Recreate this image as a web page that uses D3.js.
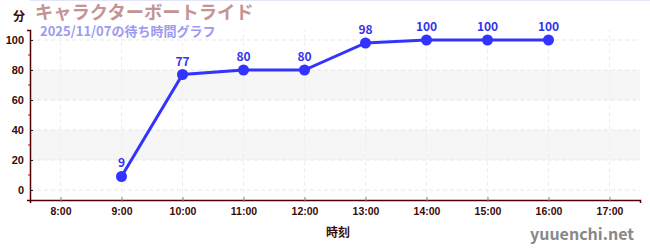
<!DOCTYPE html>
<html><head><meta charset="utf-8">
<script src="https://cdn.jsdelivr.net/npm/d3@7"></script>
<style>body{margin:0;background:#fff}svg{display:block;font-family:"Noto Sans CJK JP","Noto Sans",sans-serif}</style>
</head><body>
<script>
const hours = [9, 10, 11, 12, 13, 14, 15, 16];
const waits = [9, 77, 80, 80, 98, 100, 100, 100];
const xTicks = [8, 9, 10, 11, 12, 13, 14, 15, 16, 17];
const yTicks = [0, 20, 40, 60, 80, 100];
const title = "キャラクターボートライド";
const subtitle = "2025/11/07の待ち時間グラフ";

const W = 650, H = 250;
const svg = d3.select("body").append("svg").attr("width", W).attr("height", H);
const x = d3.scaleLinear().domain([7.5, 17.5]).range([30, 640]);
const y = d3.scaleLinear().domain([-6.667, 106.667]).range([200, 30]);

svg.append("line").attr("x1", 30).attr("x2", W).attr("y1", 0.5).attr("y2", 0.5)
  .attr("stroke", "#e4e4fa").attr("stroke-width", 1);

// bands
[[20, 40], [60, 80]].forEach(([a, b]) => {
  svg.append("rect").attr("x", x(7.5)).attr("width", x(17.5) - x(7.5))
    .attr("y", y(b)).attr("height", y(a) - y(b)).attr("fill", "#f6f6f6");
});
// grid
svg.append("g").selectAll("line").data(yTicks).join("line")
  .attr("x1", x(7.5)).attr("x2", x(17.5)).attr("y1", d => y(d)).attr("y2", d => y(d))
  .attr("stroke", "#e6e6e6").attr("stroke-dasharray", "4,3");
svg.append("g").selectAll("line").data(xTicks).join("line")
  .attr("y1", y(-6.667)).attr("y2", y(106.667)).attr("x1", d => x(d)).attr("x2", d => x(d))
  .attr("stroke", "#eeeeee").attr("stroke-dasharray", "4,3");

// y axis
const yAx = svg.append("g").attr("transform", `translate(${x(7.5)},0)`)
  .call(d3.axisLeft(y).tickValues(yTicks).tickSize(3).tickPadding(3));
yAx.select(".domain").attr("stroke", "#500000").attr("stroke-width", 1.5);
yAx.selectAll(".tick line").attr("stroke", "#222").attr("x2", 3);
yAx.selectAll("text").attr("fill", "#3a0a0a").attr("font-size", 11).attr("font-weight", "bold");
svg.append("g").selectAll("line").data([10, 30, 50, 70, 90]).join("line")
  .attr("x1", x(7.5) - 2).attr("x2", x(7.5)).attr("y1", d => y(d)).attr("y2", d => y(d))
  .attr("stroke", "#d00000");

// x axis
const xAx = svg.append("g").attr("transform", `translate(0,${y(-6.667)})`)
  .call(d3.axisBottom(x).tickValues(xTicks).tickFormat(d => d + ":00").tickSize(3).tickPadding(5));
xAx.select(".domain").attr("stroke", "#500000").attr("stroke-width", 1.5);
xAx.selectAll(".tick line").attr("stroke", "#888").attr("y1", -3).attr("y2", 2);
xAx.selectAll("text").attr("fill", "#3a0a0a").attr("font-size", 10.5).attr("font-weight", "bold");

// line
svg.append("path").datum(hours.map((h, i) => [h, waits[i]]))
  .attr("d", d3.line().x(d => x(d[0])).y(d => y(d[1])))
  .attr("fill", "none").attr("stroke", "#3333ff").attr("stroke-width", 3);
svg.append("g").selectAll("circle").data(hours).join("circle")
  .attr("cx", d => x(d)).attr("cy", (d, i) => y(waits[i])).attr("r", 5.5).attr("fill", "#3333ff");
svg.append("g").selectAll("text").data(hours).join("text")
  .attr("x", d => x(d)).attr("y", (d, i) => y(waits[i]) - 9).attr("text-anchor", "middle")
  .attr("font-size", 12).attr("font-weight", "bold").attr("fill", "#3333ee").text((d, i) => waits[i]);

// texts
svg.append("text").attr("x", 35).attr("y", 19).attr("font-size", 18.3).attr("font-weight", "bold")
  .attr("fill", "#c49494").text(title);
svg.append("text").attr("x", 40).attr("y", 36).attr("font-size", 13).attr("font-weight", "bold")
  .attr("fill", "#9b9bf0").text(subtitle);
svg.append("text").attr("x", 13).attr("y", 21).attr("font-size", 12).attr("font-weight", "bold")
  .attr("fill", "#3a0a0a").text("分");
svg.append("text").attr("x", 338).attr("y", 237).attr("text-anchor", "middle").attr("font-size", 12)
  .attr("font-weight", "bold").attr("fill", "#3a0a0a").text("時刻");
svg.append("text").attr("x", 634).attr("y", 240).attr("text-anchor", "end").attr("font-size", 16)
  .attr("font-weight", "bold").attr("fill", "#888").text("yuuenchi.net");
</script>
</body></html>
